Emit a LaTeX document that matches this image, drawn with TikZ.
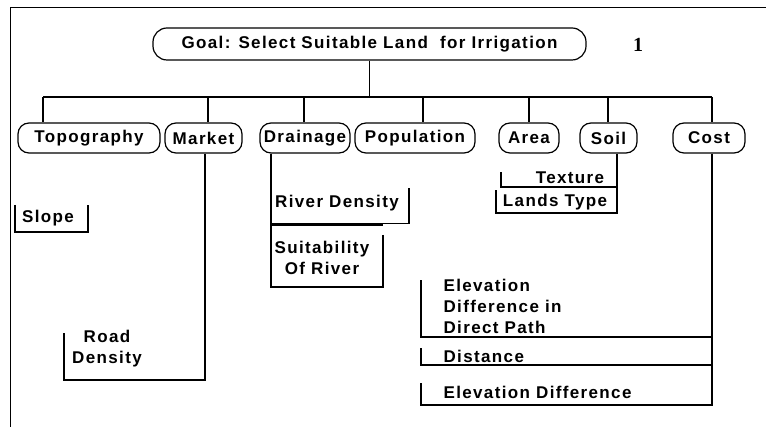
\documentclass[tikz,border=0pt]{standalone}
\usepackage{fontspec}
\setmainfont{Liberation Sans}[LetterSpace=8]
\newfontfamily\numfont{Liberation Serif}
\begin{document}
\begin{tikzpicture}[x=1pt, y=-1pt, line width=1.2pt]
      \tikzstyle{every node}=[font=\fontsize{17}{21}\selectfont\bfseries, inner sep=0pt]
      \tikzstyle{crit}=[draw, rounded corners=11pt, minimum height=30pt]
      \useasboundingbox (0,0) rectangle (766,427);
      \draw[line width=0.8pt] (766,7) -- (10,7) -- (10,427);

      \path (369.5,44) node[crit, rounded corners=14pt, minimum width=433pt, minimum height=32pt] (goal)
        {Goal: Select Suitable Land\ \ for Irrigation};
      \path (638,45) node (page) {\numfont\fontsize{20}{20}\selectfont 1};

      \foreach \name/\txt/\x/\w/\d in {topo/Topography/89/142/43, market/Market/203.5/77/208,
        drain/Drainage/305/90/304, popu/Population/415/120/423, area/Area/529/60/529,
        soil/Soil/608.5/57/608, cost/Cost/709/72/712}
      {
        \path (\x,138) node[crit, minimum width=\w pt] (\name) {\txt};
        \coordinate (bus-\name) at (\d,97);
        \draw (bus-\name) -- (bus-\name |- \name.north);
      }

      \draw (goal.south) -- (goal.south |- bus-topo);
      \draw (bus-topo) -- (bus-cost);

      % sub criteria
      \path (48,218) node (slope) {Slope};
      \draw (15,205) -- (15,232) -- (88,232) -- (88,205);

      \path (107,349) node[align=center] (road) {Road\\Density};
      \draw ([xshift=1.5pt]market.south) |- (64,380) -- (64,333);

      \path (337,203) node (rivden) {River Density};
      \draw ([xshift=-34pt]drain.south) -- ++(0,70) -- ++(138,0) -- ++(0,-36);
      \path (322,258) node[align=center] (suit) {Suitability\\Of River};
      \draw (383,235) -- (383,287) -- (271,287) -- (271,225) -- (383,225);

      \path (570,178) node (texture) {Texture};
      \path (555,202) node (lands) {Lands Type};
      \draw ([xshift=8.5pt]soil.south) |- (496,213) -- (496,190);
      \draw (617,187) -- (501,187) -- (501,172);

      \path (443,306) node[anchor=west, align=left] (elevpath) {Elevation\\Difference in\\Direct Path};
      \path (443,356) node[anchor=west] (dist) {Distance};
      \path (443,392) node[anchor=west] (elevdiff) {Elevation Difference};
      \draw ([xshift=3pt]cost.south) |- (421,405) -- (421,383);
      \draw (712,365) -- (421,365) -- (421,348);
      \draw (712,337) -- (421,337) -- (421,280);
    \end{tikzpicture}
\end{document}
